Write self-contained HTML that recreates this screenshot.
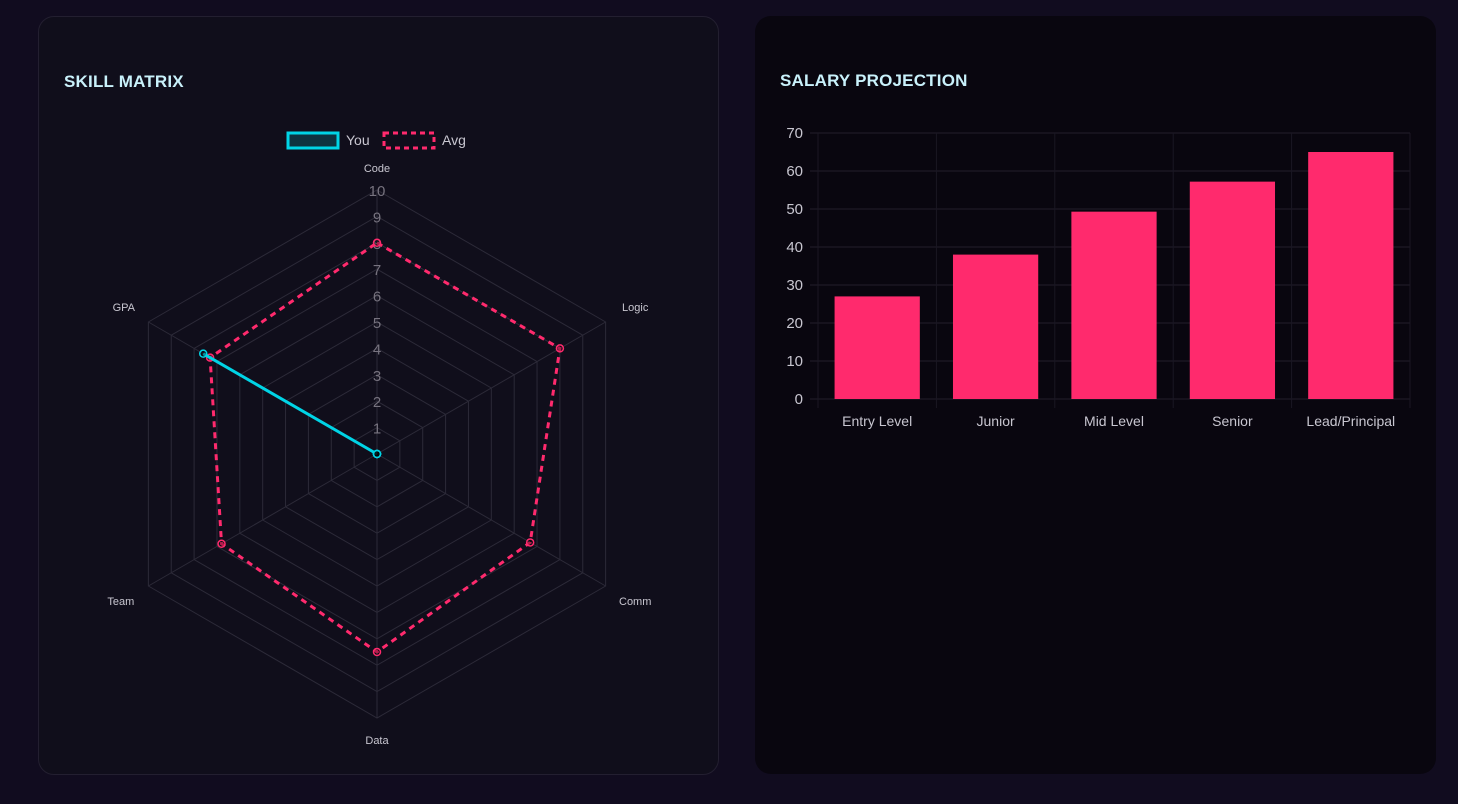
<!DOCTYPE html>
<html><head><meta charset="utf-8"><style>
html,body{margin:0;padding:0;width:1458px;height:804px;overflow:hidden;background:#110c1f;font-family:"Liberation Sans",sans-serif}
.card{position:absolute;border-radius:16px}
#c1{left:38px;top:16px;width:679px;height:757px;background:#100e1b;border:1px solid #231f30}
#c2{left:755px;top:16px;width:681px;height:758px;background:#09060f}
.title{position:absolute;left:25px;top:55px;font-weight:bold;font-size:17px;color:#c9f1fb;letter-spacing:0.2px}
svg{position:absolute;left:0;top:0}
</style></head><body>
<div class="card" id="c1"><div class="title">SKILL MATRIX</div></div>
<div class="card" id="c2"><div class="title">SALARY PROJECTION</div></div>
<svg id="radar" width="1458" height="804"></svg>
<svg id="bars" width="1458" height="804"></svg>
<script>
const axes=["Code","Logic","Comm","Data","Team","GPA"];
const youVals=[0,0,0,0,0,7.6];
const avgVals=[8,8,6.7,7.5,6.8,7.3];
const rTicks=[1,2,3,4,5,6,7,8,9,10];
const cats=["Entry Level","Junior","Mid Level","Senior","Lead/Principal"];
const salary=[27,38,49.3,57.2,65];
const yTicks=[0,10,20,30,40,50,60,70];

const NS="http://www.w3.org/2000/svg";
function mk(p,t,a){const e=document.createElementNS(NS,t);for(const k in a)e.setAttribute(k,a[k]);p.appendChild(e);return e;}
const R=document.getElementById('radar');
const cx=377,cy=454,rad=264,rmax=10;
function pt(i,v){const a=-Math.PI/2+i*Math.PI/3;const r=v/rmax*rad;return [cx+r*Math.cos(a),cy+r*Math.sin(a)];}
rTicks.forEach(t=>{const g=mk(R,'polygon',{points:axes.map((_,i)=>pt(i,t).join(',')).join(' '),fill:'none',stroke:'#2c2a38','stroke-width':1});

});
const lOff=[[0,2],[-3,-3],[-3,3],[0,-2],[5,3],[8,-3]];
axes.forEach((a,i)=>{const p=pt(i,rmax);const l=mk(R,'line',{x1:cx,y1:cy,x2:p[0],y2:p[1],stroke:'#2c2a38'});


const lp=pt(i,rmax+0.9);let dx=0;if(i==1||i==2)dx=12;if(i==4||i==5)dx=-12;
const tx=mk(R,'text',{x:lp[0]+dx+lOff[i][0],y:lp[1]+4+lOff[i][1],'text-anchor':'middle','font-size':11,fill:'#c8c6d0'});tx.textContent=a;

});
rTicks.forEach(t=>{const p=pt(0,t);const tx=mk(R,'text',{x:p[0],y:p[1]+6,'text-anchor':'middle','font-size':15,fill:'#77737f'});tx.textContent=t;

});
function series(vals,col,dash,name){const pg=mk(R,'polygon',{points:vals.map((v,i)=>pt(i,v).join(',')).join(' '),fill:col=='#00d4e6'?'rgba(0,212,230,0.1)':'none',stroke:col,'stroke-width':3,'stroke-dasharray':dash});


vals.forEach((v,i)=>{const p=pt(i,v);const c=mk(R,'circle',{cx:p[0],cy:p[1],r:3.5,fill:'rgba(0,0,0,0.3)',stroke:col,'stroke-width':1.5});

});}
series(avgVals,'#ff2a6d','6 5','avg');
series(youVals,'#00d4e6','','you');
const lg=[['You','#00d4e6','',288,'#0e3340'],['Avg','#ff2a6d','5 4',384,'none']];
lg.forEach(d=>{const r=mk(R,'rect',{x:d[3],y:133,width:50,height:15,fill:d[4],stroke:d[1],'stroke-width':3,'stroke-dasharray':d[2]});


const t=mk(R,'text',{x:d[3]+58,y:145,'font-size':14,fill:'#c8c6d0'});t.textContent=d[0];

});
const B=document.getElementById('bars');
const x0=818,x1=1410,y0=399,ymax=70,ph=266;
const cw=(x1-x0)/cats.length;
function ys(v){return y0-v/ymax*ph;}
yTicks.forEach(t=>{const l=mk(B,'line',{x1:x0-8,x2:x1,y1:ys(t),y2:ys(t),stroke:'#221f2b'});


const tx=mk(B,'text',{x:803,y:ys(t)+5,'text-anchor':'end','font-size':15,fill:'#c8c6d0'});tx.textContent=t;

});
for(let i=0;i<=cats.length;i++){const l=mk(B,'line',{x1:x0+i*cw,x2:x0+i*cw,y1:ys(ymax),y2:y0+9,stroke:'#1a1723'});

}
cats.forEach((c,i)=>{const bw=cw*0.72;const x=x0+i*cw+(cw-bw)/2;
const r=mk(B,'rect',{x:x,y:ys(salary[i]),width:bw,height:y0-ys(salary[i]),fill:'#ff2a6d'});


const t=mk(B,'text',{x:x0+i*cw+cw/2,y:426,'text-anchor':'middle','font-size':14,fill:'#c8c6d0'});t.textContent=c;

});
</script>
</body></html>
